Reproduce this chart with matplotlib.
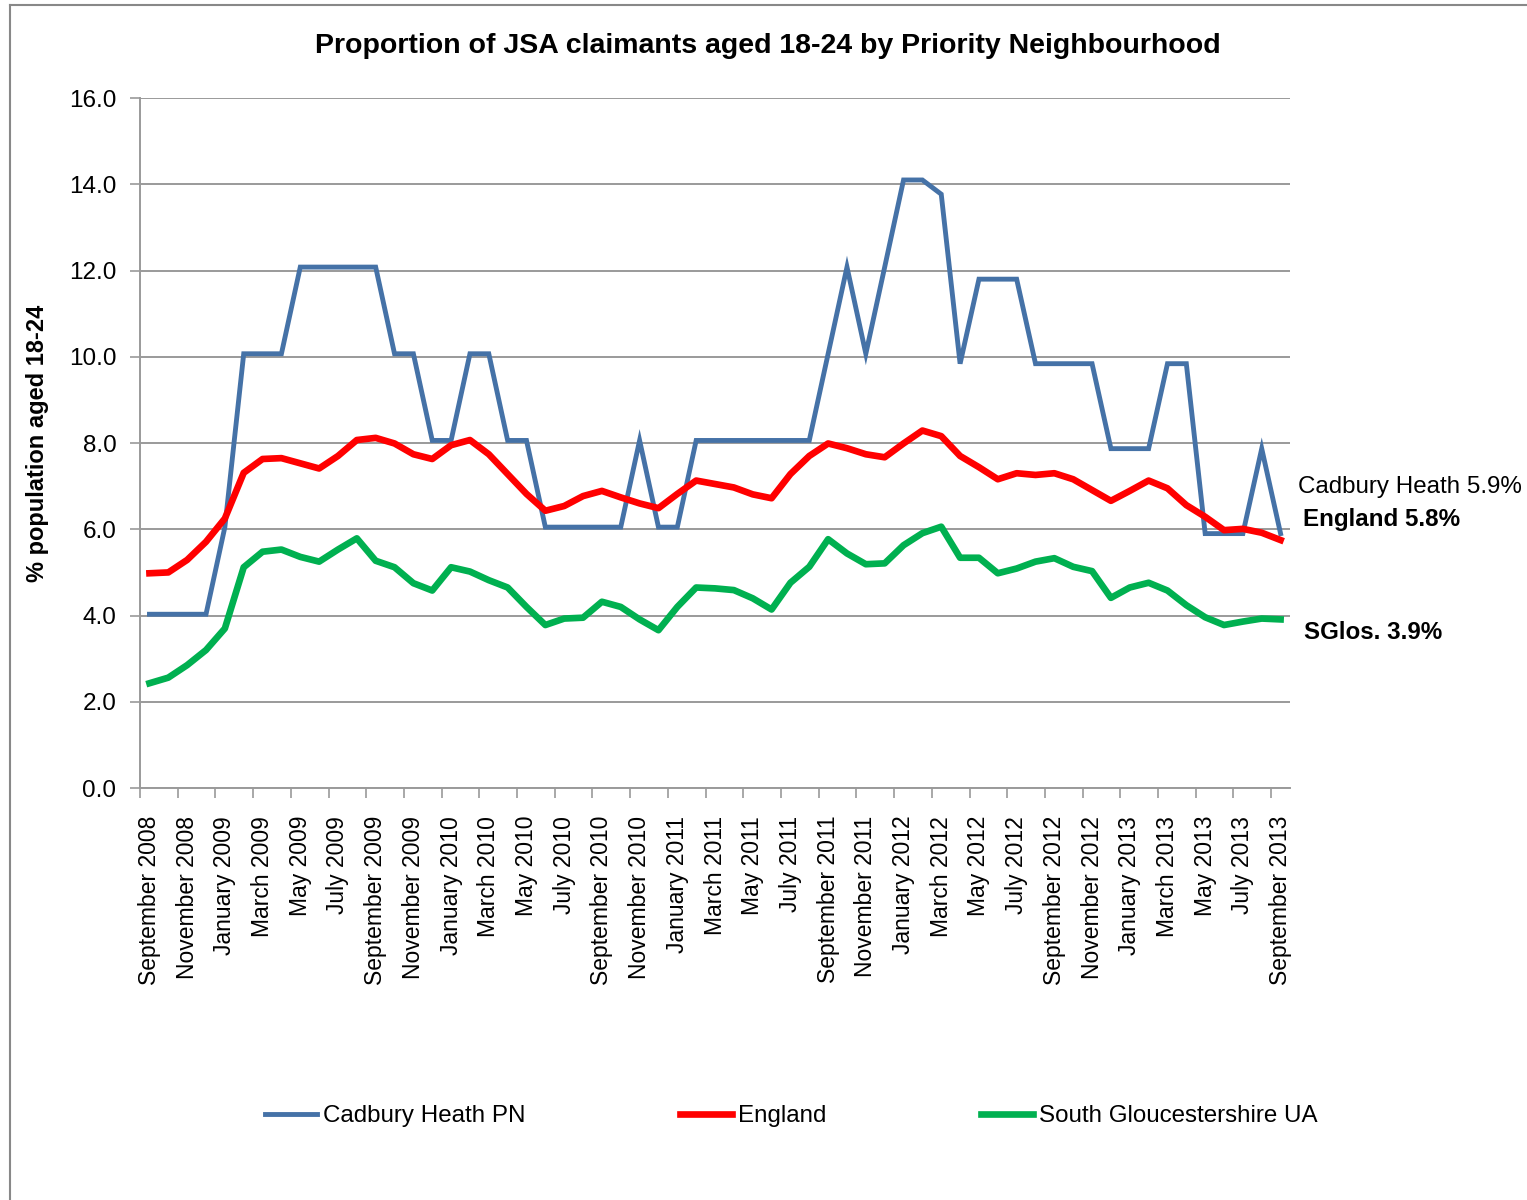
import matplotlib.pyplot as plt
from matplotlib.lines import Line2D
import numpy as np

plt.rcParams['font.family'] = ['Liberation Sans', 'DejaVu Sans']

# monthly values, September 2008 .. September 2013
cadbury = [4.03, 4.03, 4.03, 4.03, 6.05, 10.07, 10.07, 10.07, 12.08, 12.08,
           12.08, 12.08, 12.08, 10.07, 10.07, 8.06, 8.06, 10.07, 10.07, 8.06,
           8.06, 6.05, 6.05, 6.05, 6.05, 6.05, 8.06, 6.05, 6.05, 8.06,
           8.06, 8.06, 8.06, 8.06, 8.06, 8.06, 10.07, 12.08, 10.07, 12.08,
           14.10, 14.10, 13.77, 9.84, 11.80, 11.80, 11.80, 9.84, 9.84, 9.84,
           9.84, 7.87, 7.87, 7.87, 9.84, 9.84, 5.90, 5.90, 5.90, 7.87, 5.90]
england = [4.98, 5.00, 5.29, 5.71, 6.25, 7.31, 7.63, 7.65, 7.53, 7.41,
           7.70, 8.07, 8.12, 7.99, 7.74, 7.63, 7.95, 8.07, 7.74, 7.28,
           6.82, 6.43, 6.54, 6.77, 6.89, 6.74, 6.60, 6.49, 6.82, 7.13,
           7.05, 6.97, 6.81, 6.72, 7.28, 7.70, 7.99, 7.88, 7.74, 7.67,
           7.99, 8.29, 8.16, 7.70, 7.44, 7.16, 7.30, 7.26, 7.30, 7.16,
           6.91, 6.66, 6.89, 7.13, 6.95, 6.56, 6.29, 5.98, 6.01, 5.92, 5.75]
sglos = [2.43, 2.56, 2.85, 3.20, 3.70, 5.12, 5.48, 5.53, 5.36, 5.25,
         5.53, 5.79, 5.27, 5.12, 4.75, 4.58, 5.12, 5.02, 4.82, 4.65,
         4.20, 3.78, 3.93, 3.95, 4.32, 4.20, 3.91, 3.66, 4.20, 4.65,
         4.63, 4.59, 4.40, 4.14, 4.76, 5.13, 5.77, 5.44, 5.19, 5.21,
         5.63, 5.91, 6.06, 5.34, 5.34, 4.98, 5.09, 5.25, 5.33, 5.13,
         5.03, 4.41, 4.65, 4.76, 4.58, 4.24, 3.96, 3.78, 3.86, 3.93, 3.91]

# every second month is labelled
tick_labels = [
    'September 2008', 'November 2008', 'January 2009', 'March 2009', 'May 2009',
    'July 2009', 'September 2009', 'November 2009', 'January 2010', 'March 2010',
    'May 2010', 'July 2010', 'September 2010', 'November 2010', 'January 2011',
    'March 2011', 'May 2011', 'July 2011', 'September 2011', 'November 2011',
    'January 2012', 'March 2012', 'May 2012', 'July 2012', 'September 2012',
    'November 2012', 'January 2013', 'March 2013', 'May 2013', 'July 2013',
    'September 2013']

x = np.arange(len(cadbury))

fig = plt.figure(figsize=(15.27, 12), dpi=100)
ax = fig.add_axes([0.0917, 0.3433, 0.7531, 0.575])

ax.plot(x, cadbury, color='#4572A7', lw=3.5, label='Cadbury Heath PN', solid_joinstyle='miter')
ax.plot(x, england, color='#FF0000', lw=4.8, label='England')
ax.plot(x, sglos, color='#00B050', lw=4.8, label='South Gloucestershire UA')

ax.set_xlim(-0.5, len(x) - 0.5)
ax.set_ylim(0, 16)
ax.set_yticks(np.arange(0, 16.1, 2))
ax.set_yticklabels([f'{v:.1f}' for v in np.arange(0, 16.1, 2)], fontsize=17.5)
ax.grid(axis='y', color='#9A9A9A', lw=1.4)
ax.set_axisbelow(True)

ax.set_xticks(x[::2])
ax.set_xticklabels(tick_labels, rotation=90, fontsize=16.5)
ax.set_xticks(np.arange(-0.5, len(x) - 1, 2), minor=True)
ax.tick_params(axis='x', which='major', length=0, pad=20)
ax.tick_params(axis='x', which='minor', length=7, width=1.2, color='#9A9A9A')
ax.tick_params(axis='y', length=7, width=1.2, color='#9A9A9A', pad=10)

for s in ['top', 'right']:
    ax.spines[s].set_visible(False)
for s in ['left', 'bottom']:
    ax.spines[s].set_color('#9A9A9A')
    ax.spines[s].set_linewidth(1.4)

ax.set_ylabel('% population aged 18-24', fontsize=17, fontweight='bold', labelpad=14)
fig.text(0.503, 0.962, 'Proportion of JSA claimants aged 18-24 by Priority Neighbourhood',
         ha='center', va='center', fontsize=20.5, fontweight='bold')

# end-of-line annotations
fig.text(0.850, 0.594, 'Cadbury Heath 5.9%', fontsize=17.4, va='center')
fig.text(0.853, 0.567, 'England 5.8%', fontsize=17.4, fontweight='bold', va='center')
fig.text(0.854, 0.473, 'SGlos. 3.9%', fontsize=17.4, fontweight='bold', va='center')

fig.legend(loc='center', bbox_to_anchor=(0.518, 0.07), ncol=3, frameon=False,
           fontsize=17.4, handlelength=2.15, handletextpad=0.25, columnspacing=6.4)

# outer chart frame
fig.add_artist(Line2D([0.0066, 0.0066], [0, 0.996], color='#888888', lw=1.5))
fig.add_artist(Line2D([0.0066, 1], [0.996, 0.996], color='#888888', lw=1.5))

fig.savefig('out.png', dpi=100)
